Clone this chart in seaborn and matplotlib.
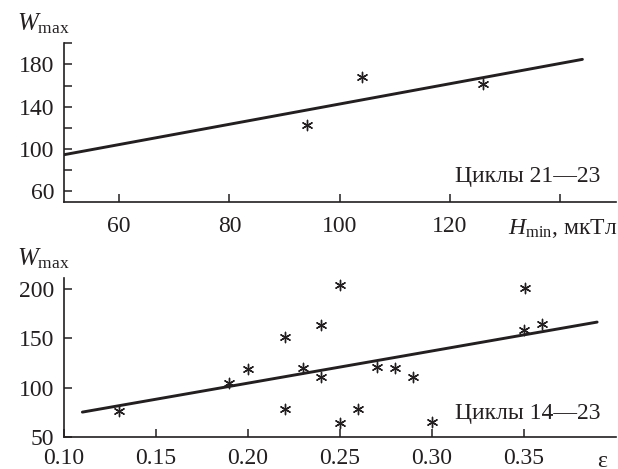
import numpy as np
import pandas as pd
import matplotlib
matplotlib.use("Agg")
import matplotlib.pyplot as plt
import seaborn as sns

# ---- data: top panel (cycles 21-23) ----
hmin = [94, 104, 126]
wmax_top = [123, 168, 161]
trend_top_x = [50, 144]
trend_top_y = [94.5, 184.8]

# ---- data: bottom panel (cycles 14-23) ----
eps = [0.13, 0.19, 0.20, 0.22, 0.22, 0.23, 0.24, 0.24, 0.25, 0.25,
       0.26, 0.27, 0.28, 0.29, 0.30, 0.35, 0.351, 0.36]
wmax_bot = [76, 105, 119, 151, 78, 120, 164, 111, 204, 64,
            78, 121, 120, 111, 65, 158, 201, 165]
trend_bot_x = [0.11, 0.39]
trend_bot_y = [75, 166.5]

top_xticks = [60, 80, 100, 120, 140]
top_xticklabels = ["60", "80", "100", "120", ""]
top_yticks = [60, 80, 100, 120, 140, 160, 180, 200]
top_yticklabels = ["60", "", "100", "", "140", "", "180", ""]
bot_xticks = [0.10, 0.15, 0.20, 0.25, 0.30, 0.35]
bot_xticklabels = ["0.10", "0.15", "0.20", "0.25", "0.30", "0.35"]
bot_yticks = [50, 100, 150, 200]
bot_yticklabels = ["50", "100", "150", "200"]

sns.set_theme(style="ticks")
plt.rcParams["font.family"] = ["Liberation Serif", "DejaVu Serif"]
plt.rcParams["mathtext.fontset"] = "custom"
plt.rcParams["mathtext.rm"] = "Liberation Serif"
plt.rcParams["mathtext.it"] = "Liberation Serif:italic"
plt.rcParams["mathtext.bf"] = "Liberation Serif:bold"

INK = "#231f20"
FS = 17

fig = plt.figure(figsize=(6.18, 4.69), dpi=100)
W = 551.5 / 618
H = 158.4 / 469
ax1 = fig.add_axes([64 / 618, 1 - 201.7 / 469, W, H])
ax2 = fig.add_axes([64 / 618, 1 - 436.7 / 469, W, H])

df_top = pd.DataFrame({"x": hmin, "y": wmax_top})
df_bot = pd.DataFrame({"x": eps, "y": wmax_bot})
tr_top = pd.DataFrame({"x": trend_top_x, "y": trend_top_y})
tr_bot = pd.DataFrame({"x": trend_bot_x, "y": trend_bot_y})

for ax, df, tr in [(ax1, df_top, tr_top), (ax2, df_bot, tr_bot)]:
    sns.lineplot(data=tr, x="x", y="y", ax=ax, color=INK, linewidth=2.1,
                 estimator=None, sort=False)
    sns.scatterplot(data=df, x="x", y="y", ax=ax, marker=(6, 2, 0), s=55,
                    color=INK, linewidth=1.0, edgecolor=INK)
    ax.set_xlabel("")
    ax.set_ylabel("")
    for sp in ["top", "right"]:
        ax.spines[sp].set_visible(False)
    for sp in ["left", "bottom"]:
        ax.spines[sp].set_color(INK)
        ax.spines[sp].set_linewidth(1.2)
    ax.tick_params(direction="in", length=6, width=1.1, colors=INK,
                   labelsize=FS, labelcolor=INK)
    ax.tick_params(axis="y", pad=7)
    ax.set_facecolor("white")

ax1.tick_params(axis="x", pad=10)
ax2.tick_params(axis="x", pad=8)

ax1.set_xlim(50, 150)
ax1.set_ylim(50, 200)
ax1.set_xticks(top_xticks)
ax1.set_xticklabels(top_xticklabels)
ax1.set_yticks(top_yticks)
ax1.set_yticklabels(top_yticklabels)

ax2.set_xlim(0.10, 0.40)
ax2.set_ylim(50, 211)
ax2.set_xticks(bot_xticks)
ax2.set_xticklabels(bot_xticklabels)
ax2.set_yticks(bot_yticks)
ax2.set_yticklabels(bot_yticklabels)

ylab = r"$\mathit{W}_{\mathrm{max}}$"
for ax in (ax1, ax2):
    ax.text(-0.085, 1.084, ylab, transform=ax.transAxes, ha="left",
            va="baseline", fontsize=FS + 1, color=INK)

ax1.text(1.003, -0.204, r"$\mathit{H}_{\mathrm{min}}$, мкТл", transform=ax1.transAxes,
         ha="right", va="baseline", fontsize=FS, color=INK)
ax2.text(0.975, -0.158, "ε", transform=ax2.transAxes,
         ha="center", va="center", fontsize=FS, color=INK)

ax1.text(0.972, 0.1225, "Циклы 21—23", transform=ax1.transAxes,
         ha="right", va="baseline", fontsize=FS, color=INK)
ax2.text(0.972, 0.112, "Циклы 14—23", transform=ax2.transAxes,
         ha="right", va="baseline", fontsize=FS, color=INK)

fig.savefig("out.png", dpi=100, facecolor="white")
